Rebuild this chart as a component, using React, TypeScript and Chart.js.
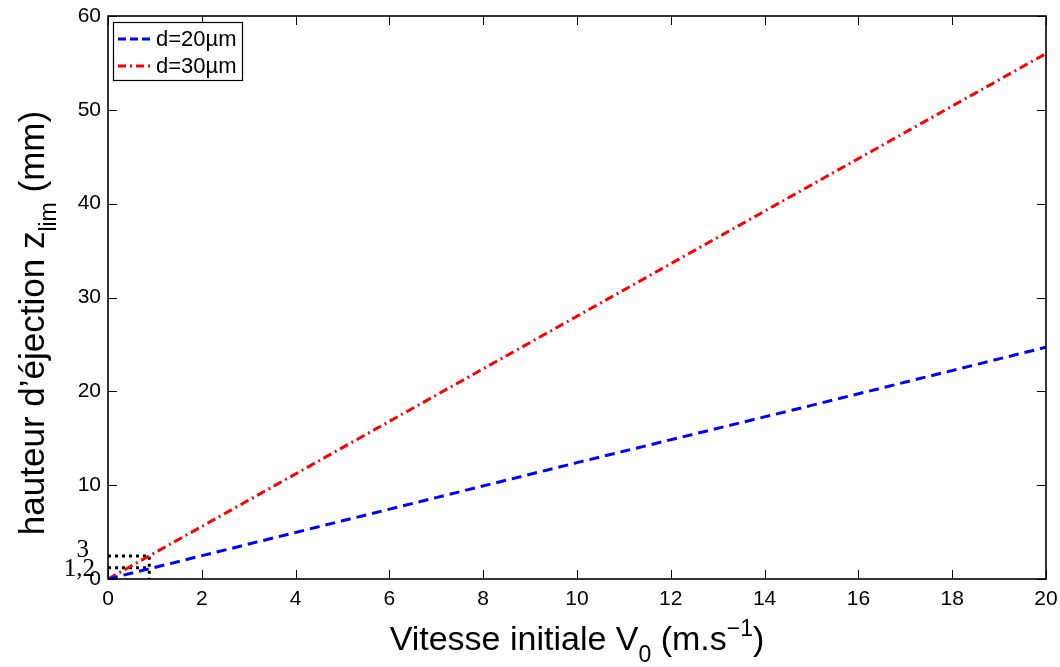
import React, { useEffect, useRef } from "react";
import { Chart, registerables } from "chart.js";

Chart.register(...registerables);

// ---- data ----
const vitesse = [0, 5, 10, 15, 20];
const zlimD20 = [0, 6.2, 12.4, 18.5, 24.7];
const zlimD30 = [0, 14, 28, 42, 56];
const seriesNames = ["d=20\u00b5m", "d=30\u00b5m"];
// zoom box (dotted) near origin
const boxX = [0, 0.88, 0.88];
const boxTop = [2.45, 2.45, 0];
const boxLowX = [0, 0.88];
const boxLow = [1.2, 1.2];
const boxLabels = ["3", "1,2"];
const xTicks = [0, 2, 4, 6, 8, 10, 12, 14, 16, 18, 20];
const yTicks = [0, 10, 20, 30, 40, 50, 60];

const SANS = '"Liberation Sans", Arial, Helvetica, sans-serif';
const SERIF = '"Liberation Serif", "Times New Roman", serif';

type Part = { t: string; size: number; dy: number };

function drawParts(ctx: CanvasRenderingContext2D, parts: Part[], cx: number, baseY: number) {
  let total = 0;
  for (const p of parts) {
    ctx.font = `${p.size}px ${SANS}`;
    total += ctx.measureText(p.t).width;
  }
  let x = cx - total / 2;
  ctx.textAlign = "left";
  ctx.textBaseline = "alphabetic";
  for (const p of parts) {
    ctx.font = `${p.size}px ${SANS}`;
    ctx.fillText(p.t, x, baseY + p.dy);
    x += ctx.measureText(p.t).width;
  }
}

const decorPlugin = {
  id: "decor",
  afterDraw(chart: any) {
    const ctx: CanvasRenderingContext2D = chart.ctx;
    const a = chart.chartArea;
    const xs = chart.scales.x;
    const ys = chart.scales.y;
    ctx.save();
    ctx.strokeStyle = "#000";
    ctx.fillStyle = "#000";
    // frame
    ctx.lineWidth = 1.6;
    ctx.setLineDash([]);
    ctx.strokeRect(a.left, a.top, a.right - a.left, a.bottom - a.top);
    // inward ticks
    ctx.lineWidth = 1;
    const tl = 9;
    ctx.beginPath();
    for (const v of xTicks) {
      const px = Math.round(xs.getPixelForValue(v)) + 0.5;
      ctx.moveTo(px, a.bottom);
      ctx.lineTo(px, a.bottom - tl);
      ctx.moveTo(px, a.top);
      ctx.lineTo(px, a.top + tl);
    }
    for (const v of yTicks) {
      const py = Math.round(ys.getPixelForValue(v)) + 0.5;
      ctx.moveTo(a.left, py);
      ctx.lineTo(a.left + tl, py);
      ctx.moveTo(a.right, py);
      ctx.lineTo(a.right - tl, py);
    }
    ctx.stroke();

    // legend
    const lx = a.left + 5;
    const ly = a.top + 6;
    const lw = 129;
    const lh = 58;
    ctx.fillStyle = "#fff";
    ctx.fillRect(lx, ly, lw, lh);
    ctx.lineWidth = 1.2;
    ctx.strokeStyle = "#000";
    ctx.strokeRect(lx + 0.5, ly + 0.5, lw, lh);
    const items = [
      { color: "#0000ff", dash: [8, 4] },
      { color: "#ff0000", dash: [8, 4, 2, 4] },
    ];
    items.forEach((it, i) => {
      const ry = ly + 17 + i * 27;
      ctx.strokeStyle = it.color;
      ctx.lineWidth = 3;
      ctx.setLineDash(it.dash);
      ctx.beginPath();
      ctx.moveTo(lx + 5, ry);
      ctx.lineTo(lx + 41, ry);
      ctx.stroke();
      ctx.setLineDash([]);
      ctx.fillStyle = "#000";
      ctx.font = `22px ${SANS}`;
      ctx.textAlign = "left";
      ctx.textBaseline = "middle";
      ctx.fillText(seriesNames[i], lx + 43, ry + 1);
    });

    // zoom box labels (serif)
    ctx.fillStyle = "#000";
    ctx.font = `25px ${SERIF}`;
    ctx.textAlign = "right";
    ctx.textBaseline = "alphabetic";
    ctx.fillText(boxLabels[0], a.left - 19, ys.getPixelForValue(2.3));
    ctx.fillText(boxLabels[1], a.left - 13, ys.getPixelForValue(0.35));

    // x title
    const cx = (a.left + a.right) / 2;
    drawParts(
      ctx,
      [
        { t: "Vitesse initiale V", size: 34, dy: 0 },
        { t: "0", size: 23, dy: 12 },
        { t: " (m.s", size: 34, dy: 0 },
        { t: "\u22121", size: 23, dy: -14 },
        { t: ")", size: 34, dy: 0 },
      ],
      cx,
      650
    );

    // y title
    ctx.save();
    ctx.translate(44, 323);
    ctx.rotate(-Math.PI / 2);
    drawParts(
      ctx,
      [
        { t: "hauteur d\u2019\u00e9jection z", size: 35, dy: 0 },
        { t: "lim", size: 23, dy: 12 },
        { t: " (mm)", size: 35, dy: 0 },
      ],
      0,
      0
    );
    ctx.restore();
    ctx.restore();
  },
};

export default function App() {
  const ref = useRef<HTMLCanvasElement | null>(null);
  useEffect(() => {
    document.body.style.margin = "0";
    const canvas = ref.current;
    if (!canvas) return;
    const pts = (xs: number[], ys: number[]) => xs.map((x, i) => ({ x, y: ys[i] }));
    const chart = new Chart(canvas, {
      type: "line",
      data: {
        datasets: [
          {
            label: seriesNames[0],
            data: pts(vitesse, zlimD20),
            borderColor: "#0000ff",
            borderWidth: 3,
            borderDash: [10, 6],
            pointRadius: 0,
            fill: false,
          },
          {
            label: seriesNames[1],
            data: pts(vitesse, zlimD30),
            borderColor: "#ff0000",
            borderWidth: 3,
            borderDash: [9, 4, 2, 4],
            pointRadius: 0,
            fill: false,
          },
          {
            label: "box3",
            data: pts(boxX, boxTop),
            borderColor: "#000",
            borderWidth: 3,
            borderDash: [3, 4],
            pointRadius: 0,
            fill: false,
          },
          {
            label: "box12",
            data: pts(boxLowX, boxLow),
            borderColor: "#000",
            borderWidth: 3,
            borderDash: [3, 4],
            pointRadius: 0,
            fill: false,
          },
        ],
      },
      options: {
        animation: false,
        responsive: false,
        maintainAspectRatio: false,
        layout: { padding: { left: 0, right: 14, top: 16, bottom: 0 } },
        plugins: {
          legend: { display: false },
          tooltip: { enabled: false },
        },
        scales: {
          x: {
            type: "linear",
            min: 0,
            max: 20,
            afterBuildTicks: (s: any) => {
              s.ticks = xTicks.map((v) => ({ value: v }));
            },
            afterFit: (s: any) => {
              s.height = 88;
              s.paddingLeft = 0;
              s.paddingRight = 0;
            },
            grid: { display: false, drawTicks: false },
            border: { display: false },
            ticks: {
              color: "#000",
              padding: 8,
              font: { family: SANS, size: 21 },
              maxRotation: 0,
            },
          },
          y: {
            type: "linear",
            min: 0,
            max: 60,
            afterBuildTicks: (s: any) => {
              s.ticks = yTicks.map((v) => ({ value: v }));
            },
            afterFit: (s: any) => {
              s.width = 108;
              s.paddingTop = 0;
              s.paddingBottom = 0;
            },
            grid: { display: false, drawTicks: false },
            border: { display: false },
            ticks: {
              color: "#000",
              padding: 7,
              font: { family: SANS, size: 21 },
            },
          },
        },
      },
      plugins: [decorPlugin],
    });
    return () => chart.destroy();
  }, []);
  return (
    <div style={{ width: 1060, height: 667, background: "#fff" }}>
      <canvas ref={ref} width={1060} height={667} style={{ display: "block" }} />
    </div>
  );
}
